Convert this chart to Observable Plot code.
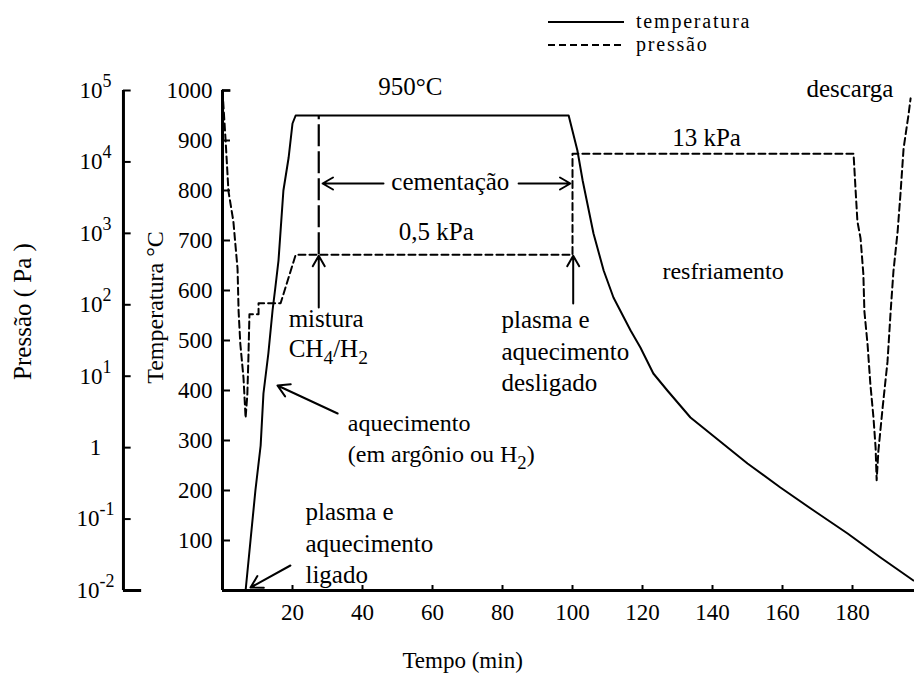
<!DOCTYPE html>
<html lang="pt">
<head>
<meta charset="utf-8">
<script src="https://cdn.jsdelivr.net/npm/d3@7"></script>
<script src="https://cdn.jsdelivr.net/npm/@observablehq/plot@0.6"></script>
<style>
  html, body { margin: 0; padding: 0; background: #fff; }
  #figura { position: relative; width: 914px; height: 675px; font-family: "Liberation Serif", "Times New Roman", serif; color: #000; }
  #legenda { position: absolute; left: 548px; top: 10px; font-size: 20px; letter-spacing: 1.8px; line-height: 23px; }
  #legenda div { display: flex; align-items: center; height: 23px; }
  #legenda svg { margin-right: 12px; }
</style>
</head>
<body>
<div id="figura">
  <div id="legenda">
    <div><svg width="76" height="6"><line x1="0" x2="76" y1="3" y2="3" stroke="#000" stroke-width="2"/></svg>temperatura</div>
    <div><svg width="76" height="6"><line x1="0" x2="76" y1="3" y2="3" stroke="#000" stroke-width="2" stroke-dasharray="7,4"/></svg>pressão</div>
  </div>
</div>
<script>
// Ciclo de cementação a plasma: temperatura (°C) e pressão (Pa) ao longo do tempo (min)
const tempoTemperatura = [6.6, 8, 9.4, 10.9, 11.7, 13.1, 14.3, 15.1, 16, 17.4, 18.9, 20, 20.9,
  98.9, 101.4, 102.9, 106, 108.9, 111.7, 116.6, 119.4, 123.1, 127.1, 133.7,
  150, 159.4, 168.9, 178.6, 188, 197.4];
const temperatura = [0, 100, 200, 290, 394, 474, 560, 606, 660, 800, 866, 934, 950,
  950, 880, 820, 714, 640, 586, 520, 486, 434, 400, 346,
  254, 206, 160, 114, 66, 20];

const tempoPressao = [0, 0.9, 1.7, 3.1, 4.3, 4.6, 5.1, 6.0, 6.6, 7.1, 7.4, 7.7, 10.3, 10.3, 16.6, 20.9,
  100, 100, 180.3, 180.9, 181.4, 182.3, 183.1, 183.4, 184.3, 185.1, 186.0, 186.6, 186.9,
  187.4, 188.6, 190.0, 190.9, 191.7, 192.9, 193.7, 194.6, 196.0, 196.6];
const pressao = [100000, 19500, 3900, 1480, 320, 81, 28, 9.5, 2.6, 5.6, 18, 74, 74, 105, 105, 500,
  500, 13000, 13000, 3900, 1480, 850, 270, 81, 28, 7.8, 2.6, 1.0, 0.35,
  0.9, 3.6, 16, 81, 295, 1070, 3550, 15500, 45700, 77600];

// Eventos do ciclo
const inicioMistura = 27.5;        // min: entrada da mistura CH4/H2
const fimCementacao = 100;         // min: plasma e aquecimento desligados
const pressaoCementacao = 500;     // Pa (0,5 kPa)
const pressaoResfriamento = 13000; // Pa (13 kPa)
const patamar = 950;               // °C

// Marcas dos eixos
const ticksTempo = [20, 40, 60, 80, 100, 120, 140, 160, 180];
const ticksTemperatura = [100, 200, 300, 400, 500, 600, 700, 800, 900, 1000];
const ticksPressao = [1e5, 1e4, 1e3, 1e2, 1e1, 1, 1e-1, 1e-2];
const rotulosPressao = ["10⁵", "10⁴", "10³", "10²", "10¹", "1", "10⁻¹", "10⁻²"];

// A escala logarítmica da pressão (10⁻² … 10⁵ Pa) ocupa a mesma altura que 0 … 1000 °C
const pMin = 1e-2, pMax = 1e5;
const naEscalaT = p => (Math.log10(p) - Math.log10(pMin)) / (Math.log10(pMax) - Math.log10(pMin)) * 1000;

const serieT = tempoTemperatura.map((t, i) => ({t, v: temperatura[i]}));
const serieP = tempoPressao.map((t, i) => ({t, p: pressao[i]}));

// posição (em minutos) do eixo da pressão, à esquerda do eixo da temperatura
const eixoPressaoT = -28.3;

const fonte = "Liberation Serif, Times New Roman, serif";

const tT = naEscalaT(pressaoCementacao);
const tR = naEscalaT(pressaoResfriamento);

const chart = Plot.plot({
  width: 914,
  height: 675,
  marginTop: 90,
  marginBottom: 85,
  marginLeft: 222,
  marginRight: 0,
  style: {fontFamily: fonte, fontSize: "23px", color: "#000", background: "transparent", overflow: "visible"},
  x: {domain: [0, 692 / 3.5]},
  y: {domain: [0, 1000]},
  marks: [
    // eixo do tempo
    Plot.ruleY([0], {strokeWidth: 3.2}),
    Plot.axisX({ticks: ticksTempo, tickSize: -5, tickPadding: 18, tickFormat: d => String(d), strokeWidth: 2, label: null}),
    // eixo da temperatura
    Plot.ruleX([0], {y1: 0, y2: 1000, strokeWidth: 3}),
    Plot.ruleY([1000], {x1: 0, x2: 2.4, strokeWidth: 2.5}),
    Plot.axisY({ticks: ticksTemperatura, tickSize: -8, tickPadding: 18, tickFormat: d => String(d), strokeWidth: 2, label: null}),
    // eixo da pressão (logarítmico)
    Plot.ruleX([eixoPressaoT], {y1: 0, y2: 1000, strokeWidth: 3}),
    Plot.ruleY([pMin], {y: naEscalaT, x1: eixoPressaoT, x2: eixoPressaoT + 5.2, strokeWidth: 3}),
    Plot.ruleY(ticksPressao, {y: naEscalaT, x1: eixoPressaoT, x2: eixoPressaoT + 2.2, strokeWidth: 2}),
    Plot.text(ticksPressao, {y: naEscalaT, x: eixoPressaoT, text: (d, i) => rotulosPressao[i], dx: -28, textAnchor: "middle", fontSize: 23}),
    // títulos dos eixos
    Plot.text(["Pressão ( Pa )"], {x: -57.1, y: 558, rotate: -90, fontSize: 25}),
    Plot.text(["Temperatura °C"], {x: -19.1, y: 566, rotate: -90, fontSize: 24}),
    Plot.text(["Tempo (min)"], {x: 68.6, y: -140, fontSize: 23}),

    // curvas
    Plot.line(serieT, {x: "t", y: "v", strokeWidth: 2}),
    Plot.line(serieP, {x: "t", y: d => naEscalaT(d.p), strokeWidth: 2, strokeDasharray: "7,4"}),

    // entrada da mistura CH4/H2 e desligamento
    Plot.ruleX([inicioMistura], {y1: tT, y2: patamar, strokeWidth: 2.2, strokeDasharray: "22,5"}),
    Plot.arrow([inicioMistura], {x1: d => d, x2: d => d, y1: 566, y2: tT - 2, strokeWidth: 2, headLength: 9}),
    Plot.arrow([fimCementacao], {x1: d => d + 0.2, x2: d => d + 0.2, y1: 574, y2: tT - 2, strokeWidth: 2, headLength: 9}),

    // período de cementação
    Plot.arrow([inicioMistura], {x1: 46, x2: d => d + 1.1, y1: 814, y2: 814, strokeWidth: 2, headLength: 9}),
    Plot.arrow([fimCementacao], {x1: 84.6, x2: d => d - 0.6, y1: 814, y2: 814, strokeWidth: 2, headLength: 9}),
    Plot.text(["cementação"], {x: 65.1, y: 818, fontSize: 25}),

    // setas do aquecimento
    Plot.arrow([0], {x1: 32.9, y1: 354, x2: 15.7, y2: 410, strokeWidth: 2, headLength: 10}),
    Plot.arrow([0], {x1: 19.4, y1: 50, x2: 8, y2: 6, strokeWidth: 2, headLength: 10}),

    // rótulos
    Plot.text([`${patamar}°C`], {x: 53.7, y: 1008, fontSize: 25}),
    Plot.text(["0,5 kPa"], {x: 61.1, y: tT, dy: -23, fontSize: 25}),
    Plot.text(["13 kPa"], {x: 138.3, y: tR, dy: -16, fontSize: 25}),
    Plot.text(["resfriamento"], {x: 125.7, y: 638, textAnchor: "start", fontSize: 24}),
    Plot.text(["descarga"], {x: 191.7, y: 1004, textAnchor: "end", fontSize: 25}),
    Plot.text(["mistura\nCH₄/H₂"], {x: 18.9, y: 517, textAnchor: "start", fontSize: 25, lineHeight: 1.2}),
    Plot.text(["plasma e\naquecimento\ndesligado"], {x: 79.7, y: 482, textAnchor: "start", fontSize: 25, lineHeight: 1.25}),
    Plot.text(["aquecimento\n(em argônio ou H₂)"], {x: 35.8, y: 308, textAnchor: "start", fontSize: 24, lineHeight: 1.3}),
    Plot.text(["plasma e\naquecimento\nligado"], {x: 23.7, y: 98, textAnchor: "start", fontSize: 25, lineHeight: 1.25})
  ]
});

// Índices e expoentes (₂, ⁵, ⁻¹ …) viram tspans deslocados
const SUB = "₀₁₂₃₄₅₆₇₈₉", SUP = "⁰¹²³⁴⁵⁶⁷⁸⁹";
function partes(s) {
  const runs = [];
  for (const ch of s) {
    let kind = "base", c = ch, i;
    if ((i = SUB.indexOf(ch)) >= 0) { kind = "sub"; c = String(i); }
    else if ((i = SUP.indexOf(ch)) >= 0) { kind = "sup"; c = String(i); }
    else if (ch === "⁻") { kind = "sup"; c = "-"; }
    const last = runs[runs.length - 1];
    if (last && last.kind === kind) last.text += c; else runs.push({kind, text: c});
  }
  return runs;
}
function comporEscritas(svg) {
  const ns = "http://www.w3.org/2000/svg";
  for (const el of svg.querySelectorAll("text, tspan")) {
    if (el.children.length) continue;
    const runs = partes(el.textContent);
    if (runs.every(r => r.kind === "base")) continue;
    el.textContent = "";
    let desloc = 0;
    for (const r of runs) {
      const t = document.createElementNS(ns, "tspan");
      const alvo = r.kind === "sub" ? 7 : r.kind === "sup" ? -11 : 0;
      if (alvo !== desloc) t.setAttribute("dy", alvo - desloc);
      desloc = alvo;
      if (r.kind !== "base") t.setAttribute("font-size", "0.78em");
      t.textContent = r.text;
      el.appendChild(t);
    }
  }
}
comporEscritas(chart);

const fig = document.getElementById("figura");
chart.style.position = "absolute";
chart.style.left = "0";
chart.style.top = "0";
fig.insertBefore(chart, fig.firstChild);
</script>
</body>
</html>
